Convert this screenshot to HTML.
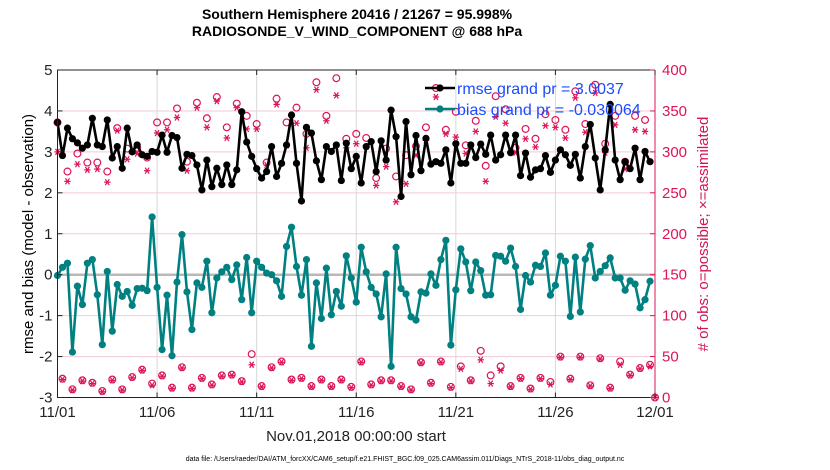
<!DOCTYPE html>
<html><head><meta charset="utf-8"><style>
body{margin:0;background:#fff;}
svg{display:block;font-family:"Liberation Sans",Arial,sans-serif;}
</style></head><body>
<svg id="chart" width="830" height="470" viewBox="0 0 830 470">
<rect x="0" y="0" width="830" height="470" fill="#fff"/>
<text x="357" y="19" text-anchor="middle" font-size="14" font-weight="bold" fill="#000">Southern Hemisphere 20416 / 21267 = 95.998%</text>
<text x="357" y="36" text-anchor="middle" font-size="14" font-weight="bold" fill="#000">RADIOSONDE_V_WIND_COMPONENT @ 688 hPa</text>
<g id="grid"></g>
<g id="marks"></g>
<g id="axes"></g>
<text transform="translate(33,234) rotate(-90)" text-anchor="middle" font-size="15" fill="#000">rmse and bias (model - observation)</text>
<text transform="translate(708,234) rotate(-90)" text-anchor="middle" font-size="15" fill="#d4145a"># of obs: o=possible; ×=assimilated</text>
<text x="356" y="441" text-anchor="middle" font-size="15" fill="#222">Nov.01,2018 00:00:00 start</text>
<text x="405" y="461" text-anchor="middle" font-size="7" fill="#000">data file: /Users/raeder/DAI/ATM_forcXX/CAM6_setup/f.e21.FHIST_BGC.f09_025.CAM6assim.011/Diags_NTrS_2018-11/obs_diag_output.nc</text>
<g id="legend">
<line x1="425" y1="88" x2="455" y2="88" stroke="#000" stroke-width="2.5"/>
<circle cx="440" cy="88" r="3.6" fill="#000"/>
<text x="457" y="94" font-size="16" fill="#1a4cff">rmse grand pr = 3.0037</text>
<line x1="425" y1="109" x2="455" y2="109" stroke="#008080" stroke-width="2.5"/>
<circle cx="440" cy="109" r="3.6" fill="#008080"/>
<text x="457" y="115" font-size="16" fill="#1a4cff">bias grand pr = -0.030064</text>
</g>
</svg>
<script>
const dateTicks = ["11/01","11/06","11/11","11/16","11/21","11/26","12/01"];
const leftTicks = [5,4,3,2,1,0,-1,-2,-3];
const rightTicks = [400,350,300,250,200,150,100,50,0];
const rmse = [3.72,2.91,3.58,3.32,3.22,3.09,3.17,3.82,3.17,3.13,3.78,
2.85,3.13,2.60,3.58,3.0,3.17,2.93,2.89,3.01,2.99,3.41,2.99,3.4,3.35,2.6,2.94,2.91,2.68,2.07,2.8,2.15,2.6,2.2,2.68,2.2,2.56,3.98,
3.24,2.89,2.59,2.36,2.52,3.13,2.4,2.72,3.17,3.9,2.72,1.8,3.6,3.46,2.78,2.32,3.13,3.01,3.17,2.3,3.21,2.59,2.89,2.24,3.13,3.25,2.52,
3.27,2.8,4.02,3.37,1.91,3.74,2.44,3.4,2.54,3.33,2.7,2.76,2.72,3.05,2.24,3.2,2.72,2.72,3.17,2.86,3.19,2.94,3.41,2.8,2.93,3.41,2.98,
3.41,2.42,2.97,2.38,2.56,2.59,2.91,2.5,2.8,3.05,2.93,2.67,2.94,2.36,3.13,3.67,2.85,2.07,3.05,4.16,2.8,2.32,2.76,2.59,3.09,2.32,3.01,2.76];
const bias = [-0.02,0.18,0.28,-1.89,-0.28,-0.73,0.28,0.37,-0.49,-1.71,0.08,
-1.38,-0.24,-0.53,-0.41,-0.75,-0.34,-0.33,-0.39,1.41,-0.31,-1.83,-0.5,-1.98,-0.18,0.98,-0.42,-1.34,-0.2,-0.31,0.33,-0.93,-0.08,0.07,0.18,-0.12,0.24,-0.61,
0.42,-0.93,0.33,0.18,0.04,0,-0.15,-0.53,0.69,1.16,0.2,-0.5,0.37,-1.75,-0.2,-1.07,0.16,-0.98,-0.41,-0.77,0.46,-0.08,-0.67,0.67,0.07,-0.31,-0.47,
-1.03,0.02,-2.24,0.67,-0.34,-0.47,-1.03,-1.11,-0.42,-0.45,0.02,-0.26,0.37,0.84,-1.72,-0.37,0.63,0.31,-0.39,0.31,0.1,-0.5,-0.49,0.47,0.45,0.33,0.65,
0.2,-0.85,-0.02,-0.18,0.23,0.2,0.53,-0.5,-0.26,0.45,0.33,-1.02,0.43,-0.91,0.38,0.71,-0.08,0.08,0.22,0.41,-0.08,-0.08,-0.38,-0.15,-0.23,-0.81,-0.61,-0.16];
const possible = [336,23,276,10,298,21,287,18,287,8,276,
22,329,10,304,25,305,34,293,17,336,27,336,12,353,37,288,12,360,24,341,16,367,27,330,28,359,20,
344,53,334,14,287,37,365,44,336,22,354,24,322,14,385,22,344,14,390,22,316,13,322,44,317,16,268,
21,304,21,270,14,296,10,307,43,330,18,378,44,327,13,349,38,308,21,338,57,283,27,368,38,352,14,
305,24,328,11,316,24,346,19,339,50,327,23,374,50,334,15,382,48,310,12,344,44,288,28,344,36,339,40,0];
const assimilated = [300,22,264,9,285,20,278,17,279,7,263,
21,326,9,291,24,298,33,277,15,323,26,327,11,342,36,277,11,354,23,330,15,362,26,317,27,354,19,
328,40,328,13,284,36,358,43,308,21,335,23,305,13,376,21,338,13,369,21,305,12,310,43,306,15,259,
20,282,20,239,13,261,9,296,42,314,17,367,43,322,12,318,35,298,20,325,46,264,17,343,33,335,13,
299,23,316,10,306,23,332,16,330,49,317,22,366,49,324,14,372,47,299,11,333,40,279,27,327,35,325,38,0];

const NS='http://www.w3.org/2000/svg';
const X0=57.5, X1=655, YT=70, YB=397.5;
const nSteps=120;
function xPos(i){return X0+(X1-X0)*i/nSteps;}
function yL(v){return YB-(v+3)/8*(YB-YT);}
function yR(v){return YB-v/400*(YB-YT);}
function mk(tag,attrs,parent){const e=document.createElementNS(NS,tag);for(const k in attrs)e.setAttribute(k,attrs[k]);parent.appendChild(e);return e;}
const grid=document.getElementById('grid'), marks=document.getElementById('marks'), axes=document.getElementById('axes');

leftTicks.forEach(v=>{
  if(v===5||v===-3)return;
  const g=mk('line',{x1:X0,x2:X1,y1:yL(v),y2:yL(v),stroke:'#f3c9d8','stroke-width':1},grid);
  
  
});
dateTicks.forEach((d,k)=>{
  const x=xPos(k*20);
  if(k>0&&k<dateTicks.length-1){
    const g=mk('line',{x1:x,x2:x,y1:YT,y2:YB,stroke:'#d8d8d8','stroke-width':1},grid);
    
    
  }
});
const zl=mk('line',{x1:X0,x2:X1,y1:yL(0),y2:yL(0),stroke:'#b8b8b8','stroke-width':2.5},grid);



const red='#dc1458';
function star(x,y,parent){
  const g=mk('g',{stroke:red,'stroke-width':1.2},parent);
  mk('line',{x1:x-3.2,x2:x+3.2,y1:y,y2:y},g);
  mk('line',{x1:x-2,x2:x+2,y1:y-3,y2:y+3},g);
  mk('line',{x1:x+2,x2:x-2,y1:y-3,y2:y+3},g);
  return g;
}
possible.forEach((v,i)=>{
  const c=mk('circle',{cx:xPos(i),cy:yR(v),r:3.4,fill:'none',stroke:red,'stroke-width':1.2},marks);
  
  
});
assimilated.forEach((v,i)=>{
  const s=star(xPos(i),yR(v),marks);
  
  
});

function series(vals,color,name){
  const pts=vals.map((v,i)=>xPos(i).toFixed(1)+','+yL(v).toFixed(1)).join(' ');
  const pl=mk('polyline',{points:pts,fill:'none',stroke:color,'stroke-width':2.6,'stroke-linejoin':'round'},marks);
  
  
  vals.forEach((v,i)=>{
    const c=mk('circle',{cx:xPos(i),cy:yL(v),r:3.6,fill:color},marks);
    
    
  });
}
series(rmse,'#000','rmse');
series(bias,'#008080','bias');

const fr=mk('path',{d:`M${X1},${YT} L${X0},${YT} L${X0},${YB} L${X1},${YB}`,fill:'none',stroke:'#222','stroke-width':1},axes);


const ra=mk('line',{x1:X1,x2:X1,y1:YT,y2:YB,stroke:red,'stroke-width':1},axes);


leftTicks.forEach(v=>{
  const y=yL(v);
  mk('line',{x1:X0,x2:X0+5,y1:y,y2:y,stroke:'#222'},axes);
  const t=mk('text',{x:X0-5,y:y+5,'text-anchor':'end','font-size':15,fill:'#222'},axes);
  t.textContent=v;
  
  
});
rightTicks.forEach(v=>{
  const y=yR(v);
  mk('line',{x1:X1-5,x2:X1,y1:y,y2:y,stroke:red},axes);
  const t=mk('text',{x:X1+7,y:y+5,'font-size':15,fill:red},axes);
  t.textContent=v;
  
  
});
dateTicks.forEach((d,k)=>{
  const x=xPos(k*20);
  mk('line',{x1:x,x2:x,y1:YB,y2:YB-5,stroke:'#222'},axes);
  mk('line',{x1:x,x2:x,y1:YT,y2:YT+5,stroke:'#222'},axes);
  const t=mk('text',{x:x,y:417,'text-anchor':'middle','font-size':15,fill:'#222'},axes);
  t.textContent=d;
  
  
});
</script>
</body></html>
